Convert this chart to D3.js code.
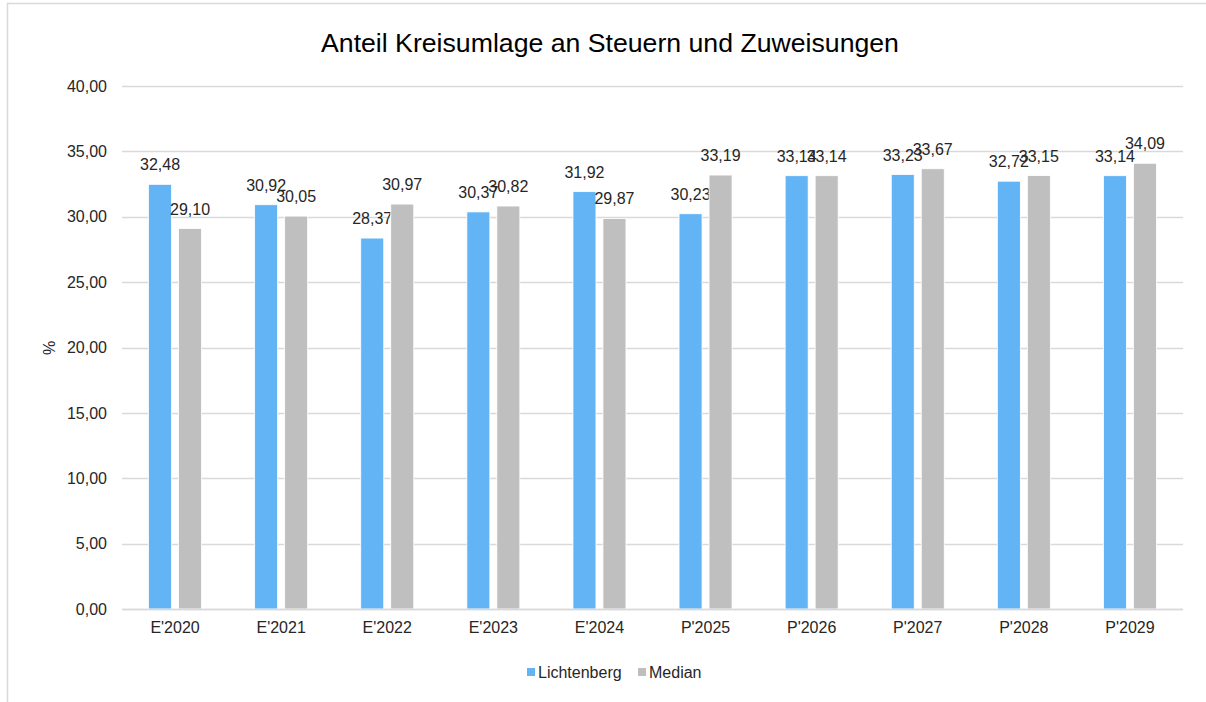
<!DOCTYPE html>
<html>
<head>
<meta charset="utf-8">
<script src="https://cdn.jsdelivr.net/npm/d3@7"></script>
<style>
  body { margin: 0; background: #fff; }
  svg { font-family: "Liberation Sans", Arial, sans-serif; }
</style>
</head>
<body>
<div id="chart"></div>
<script>
// chart data
var categories = ["E'2020", "E'2021", "E'2022", "E'2023", "E'2024", "P'2025", "P'2026", "P'2027", "P'2028", "P'2029"];
var lichtenberg = [32.48, 30.92, 28.37, 30.37, 31.92, 30.23, 33.14, 33.23, 32.72, 33.14];
var median = [29.10, 30.05, 30.97, 30.82, 29.87, 33.19, 33.14, 33.67, 33.15, 34.09];
var seriesNames = ["Lichtenberg", "Median"];
var yTicks = [0, 5, 10, 15, 20, 25, 30, 35, 40];

var colors = ["#63b4f5", "#bfbfbf"];

var W = 1206, H = 702;
var margin = {top: 86, right: 23, bottom: 93, left: 122},
    width = W - margin.left - margin.right,
    height = H - margin.top - margin.bottom;

var fontSize = 16;

// german number format
var de = d3.formatLocale({decimal: ",", thousands: ".", grouping: [3], currency: ["", " €"]});
var fmt = de.format(".2f");

var svg = d3.select("#chart").append("svg")
    .attr("width", W)
    .attr("height", H);

// outer frame (runs off the picture right and bottom)
svg.append("rect")
    .attr("x", 7.5).attr("y", 3.5)
    .attr("width", W + 20).attr("height", H + 20)
    .attr("fill", "#fff")
    .attr("stroke", "#d9d9d9")
    .attr("stroke-width", 1.5);

var g = svg.append("g")
    .attr("transform", `translate(${margin.left}, ${margin.top})`);

var x0 = d3.scaleBand().domain(categories).range([0, width]);
var y = d3.scaleLinear().domain([0, 40]).range([height, 0]);

// bar layout inside each band
var barW = 23, barGap = 7;
var offsets = [x0.bandwidth() / 2 - barGap / 2 - barW, x0.bandwidth() / 2 + barGap / 2];

// gridlines
g.append("g")
    .selectAll("line")
    .data(yTicks)
    .enter().append("line")
    .attr("x1", 0).attr("x2", width)
    .attr("y1", d => Math.round(y(d)) + 0.5)
    .attr("y2", d => Math.round(y(d)) + 0.5)
    .attr("stroke", "#d9d9d9")
    .attr("stroke-width", 1.5);

// y axis labels
var yAxis = g.append("g")
    .call(d3.axisLeft(y).tickValues(yTicks).tickFormat(fmt).tickSize(0).tickPadding(15));
yAxis.select(".domain").remove();
yAxis.selectAll("text")
    .attr("font-size", fontSize)
    .attr("font-family", "Liberation Sans, Arial, sans-serif")
    .attr("fill", "#262626");

// x axis labels
var xAxis = g.append("g")
    .attr("transform", `translate(0, ${height})`)
    .call(d3.axisBottom(x0).tickSize(0).tickPadding(13));
xAxis.select(".domain").remove();
xAxis.selectAll("text")
    .attr("font-size", fontSize)
    .attr("font-family", "Liberation Sans, Arial, sans-serif")
    .attr("fill", "#262626");

var series = [lichtenberg, median];

series.forEach((vals, s) => {
    var data = categories.map((c, i) => ({cat: c, v: vals[i]}));

    g.append("g").selectAll("rect")
        .data(data)
        .enter().append("rect")
        .attr("x", d => x0(d.cat) + offsets[s])
        .attr("y", d => y(d.v))
        .attr("width", barW)
        .attr("height", d => height - y(d.v))
        .attr("fill", colors[s])
        .attr("stroke", "#fff")
        .attr("stroke-width", 0.8);

    g.append("g").selectAll("text")
        .data(data)
        .enter().append("text")
        .attr("x", d => x0(d.cat) + offsets[s] + barW / 2)
        .attr("y", d => y(d.v) - 14)
        .attr("text-anchor", "middle")
        .attr("font-size", fontSize)
        .attr("fill", "#262626")
        .text(d => fmt(d.v));
});

// axis baseline
g.append("line")
    .attr("x1", 0).attr("x2", width)
    .attr("y1", height + 0.5).attr("y2", height + 0.5)
    .attr("stroke", "#d9d9d9")
    .attr("stroke-width", 1.5);

// title
svg.append("text")
    .attr("x", 610)
    .attr("y", 52)
    .attr("text-anchor", "middle")
    .attr("font-size", 26.67)
    .attr("fill", "#000")
    .text("Anteil Kreisumlage an Steuern und Zuweisungen");

// y axis title
svg.append("text")
    .attr("transform", "translate(55, 348) rotate(-90)")
    .attr("text-anchor", "middle")
    .attr("font-size", fontSize)
    .attr("fill", "#262626")
    .text("%");

// legend
var legend = svg.append("g").attr("transform", "translate(527, 668)");
var legX = [0, 111];
seriesNames.forEach((name, i) => {
    var lg = legend.append("g").attr("transform", `translate(${legX[i]}, 0)`);
    lg.append("rect")
        .attr("width", 8).attr("height", 8)
        .attr("fill", colors[i]);
    lg.append("text")
        .attr("x", 11).attr("y", 10)
        .attr("font-size", fontSize)
        .attr("fill", "#262626")
        .text(name);
});
</script>
</body>
</html>
